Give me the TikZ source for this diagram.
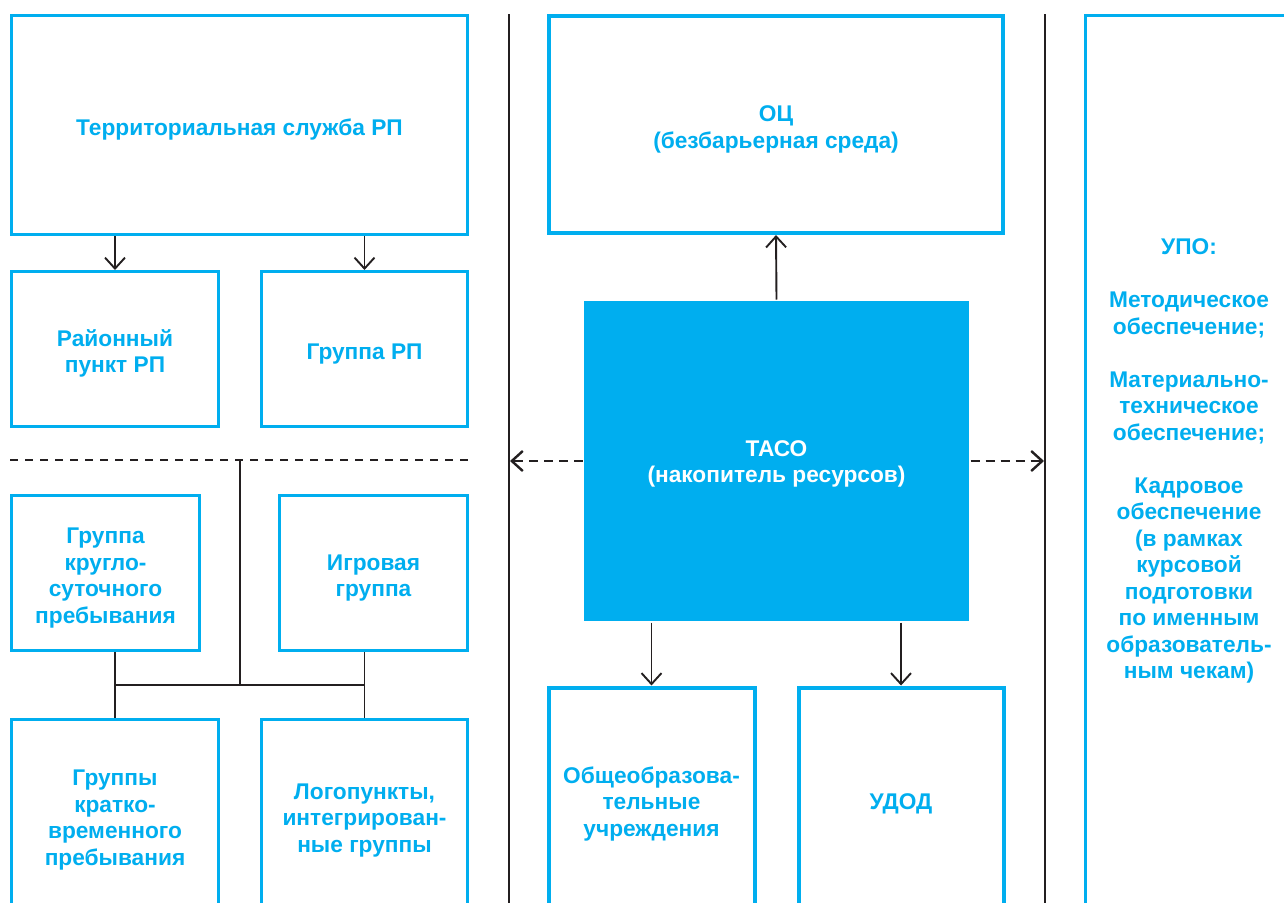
\documentclass[tikz,border=0pt]{standalone}
\usepackage{fontspec}
\setmainfont{Liberation Sans}
\usetikzlibrary{arrows.meta}
\definecolor{cyanc}{HTML}{00AEEF}
\definecolor{linec}{HTML}{231F20}
\newcommand\tstrut{\rule{0pt}{26pt}}
\tikzset{
  box/.style={draw=cyanc, line width=3pt, inner sep=0pt, align=center, text=cyanc,
    font=\fontsize{22.7}{26.5}\selectfont\bfseries},
  boxm/.style={box, line width=4pt},
  conn/.style={draw=linec, line width=1.9pt},
  arr/.style={conn, -{Straight Barb[length=11pt,width=20pt]}},
  darr/.style={arr, line width=2.4pt, dash pattern=on 9pt off 6pt},
  sep/.style={draw=linec, line width=2pt}
}
\begin{document}
\begin{tikzpicture}[x=1pt,y=-1pt]
\useasboundingbox (0,0) rectangle (1284,902);
\clip (0,0) rectangle (1284,902);
\fill[white] (0,0) rectangle (1284,902);

% left column
\node[box, minimum width=456pt, minimum height=219pt] (terr) at (239.5,125) {\tstrut Территориальная служба РП};
\node[box, minimum width=207pt, minimum height=155pt] (rayon) at (115,349) {\tstrut Районный\\пункт РП};
\node[box, minimum width=206pt, minimum height=155pt] (grp) at (364.5,349) {\tstrut Группа РП};
\node[box, minimum width=188pt, minimum height=155pt] (krugl) at (105.5,573) {\tstrut Группа\\кругло-\\суточного\\пребывания};
\node[box, minimum width=188pt, minimum height=155pt] (igr) at (373.5,573) {\tstrut Игровая\\группа};
\node[box, minimum width=207pt, minimum height=191pt] (kratko) at (115,815) {\tstrut Группы\\кратко-\\временного\\пребывания};
\node[box, minimum width=206pt, minimum height=191pt] (logo) at (364.5,815) {\tstrut Логопункты,\\интегрирован-\\ные группы};

% middle column
\node[boxm, minimum width=454pt, minimum height=217pt] (oc) at (776,124.5) {\tstrut ОЦ\\(безбарьерная среда)};
\node[box, draw=none, fill=cyanc, text=white, minimum width=385pt, minimum height=320pt] (taco) at (776.5,461) {\rule{0pt}{22pt}ТАСО\\(накопитель ресурсов)};
\node[boxm, minimum width=206pt, minimum height=223pt] (obsh) at (651.5,799) {\tstrut Общеобразова-\\тельные\\учреждения};
\node[boxm, minimum width=205pt, minimum height=223pt] (udod) at (901,799) {\tstrut УДОД};

% right column
\node[box, minimum width=207pt, minimum height=891pt] (upo) at (1189,461) {УПО:\\[26.5pt]Методическое\\обеспечение;\\[26.5pt]Материально-\\техническое\\обеспечение;\\[26.5pt]Кадровое\\обеспечение\\(в рамках\\курсовой\\подготовки\\по именным\\образователь-\\ным чекам)};

% separators
\coordinate (s1t) at (509,14);
\coordinate (s1b) at (509,905);
\coordinate (s2t) at (1045,14);
\coordinate (s2b) at (1045,905);
\draw[sep] (s1t) -- (s1b);
\draw[sep] (s2t) -- (s2b);

% dashed divider on the left
\coordinate (dl) at (10,460);
\coordinate (dr) at (470,460);
\coordinate (dm) at (240,460);
\coordinate (J) at (240,685);
\draw[conn, dash pattern=on 8pt off 7pt] (dl) -- (dr);

% arrows from territorial service
\draw[arr] (terr.south -| rayon.north) -- (rayon.north);
\draw[arr] (terr.south -| grp.north) -- (grp.north);

% tree
\draw[conn] (dm) -- (J);
\draw[conn] (kratko.north |- J) -- (logo.north |- J);
\draw[conn] (kratko.north |- krugl.south) -- (kratko.north);
\draw[conn] (logo.north |- igr.south) -- (logo.north);

% TACO arrows
\draw[arr] (taco.north) -- (oc.south);
\draw[arr] (taco.south -| obsh.north) -- (obsh.north);
\draw[arr] (taco.south -| udod.north) -- (udod.north);
\coordinate (dal) at (510,461);
\coordinate (dar) at (1044,461);
\draw[darr] (taco.west) -- (dal);
\draw[darr] (taco.east) -- (dar);
\end{tikzpicture}
\end{document}
